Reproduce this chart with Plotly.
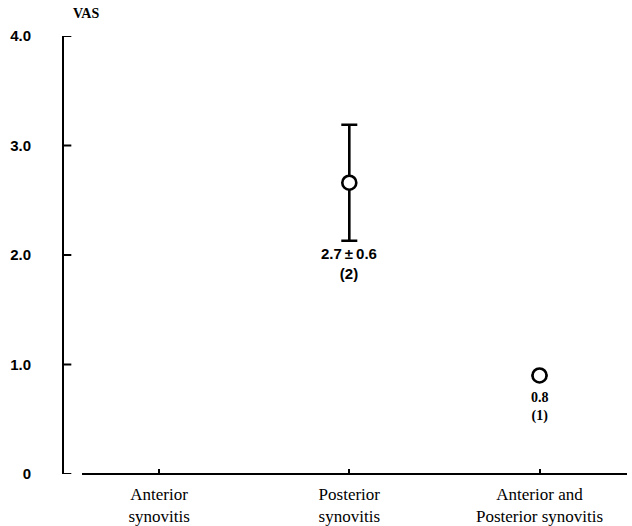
import plotly.graph_objects as go

categories = ["Anterior<br>synovitis", "Posterior<br>synovitis", "Anterior and<br>Posterior synovitis"]
means = [None, 2.66, 0.90]
sd = [None, 0.53, None]
value_labels = ["", "2.7\u2009\u00b1\u20090.6", "0.8"]
n_labels = ["", "(2)", "(1)"]
y_ticks = [0, 1, 2, 3, 4]
y_tick_text = ["0", "1.0", "2.0", "3.0", "4.0"]

fig = go.Figure()
fig.add_trace(go.Scatter(
    x=categories, y=means, mode="markers",
    marker=dict(symbol="circle", size=14, color="white", line=dict(color="black", width=2.6)),
    error_y=dict(type="data", array=sd, visible=True, color="black", thickness=2.6, width=8),
    showlegend=False, cliponaxis=False,
))

for i, c in enumerate(categories):
    if means[i] is None:
        continue
    if sd[i] is not None:
        fig.add_annotation(x=c, y=means[i] - sd[i], text=value_labels[i] + "<br>" + n_labels[i],
                           showarrow=False, yanchor="top", yshift=-2,
                           font=dict(family="Liberation Sans", size=15, color="black", weight="bold"))
    else:
        fig.add_annotation(x=c, y=means[i], text=value_labels[i] + "<br>" + n_labels[i],
                           showarrow=False, yanchor="top", yshift=-13,
                           font=dict(family="Liberation Serif", size=14, color="black", weight="bold"))

fig.add_annotation(xref="paper", yref="paper", x=0.012, y=1, yanchor="bottom", xanchor="left",
                   yshift=13, text="VAS", showarrow=False,
                   font=dict(family="Liberation Serif", size=14, color="black", weight="bold"))

# x-axis baseline (detached from the y-axis)
fig.add_shape(type="line", xref="paper", yref="paper", x0=0.032, x1=1, y0=0, y1=0,
              line=dict(color="black", width=2))

# inward y-axis tick marks
for t in y_ticks:
    fig.add_shape(type="line", xref="paper", yref="y", x0=0, x1=0.013, y0=t, y1=t,
                  line=dict(color="black", width=2))

fig.update_layout(
    width=632, height=526,
    margin=dict(l=64, r=5, t=36, b=52),
    paper_bgcolor="white", plot_bgcolor="white",
    xaxis=dict(range=[-0.5, 2.46], showgrid=False, zeroline=False, showline=False,
               automargin=False,
               ticks="inside", ticklen=5, tickwidth=1.5, tickcolor="black",
               ticklabelstandoff=8,
               tickfont=dict(family="Liberation Serif", size=17, color="black")),
    yaxis=dict(range=[0, 4], tickvals=y_ticks, ticktext=y_tick_text,
               showgrid=False, zeroline=False, showline=True, linecolor="black", linewidth=2,
               automargin=False,
               ticks="", ticklabelstandoff=28,
               tickfont=dict(family="Liberation Sans", size=15, color="black", weight="bold")),
)

fig.write_html("out.html")
